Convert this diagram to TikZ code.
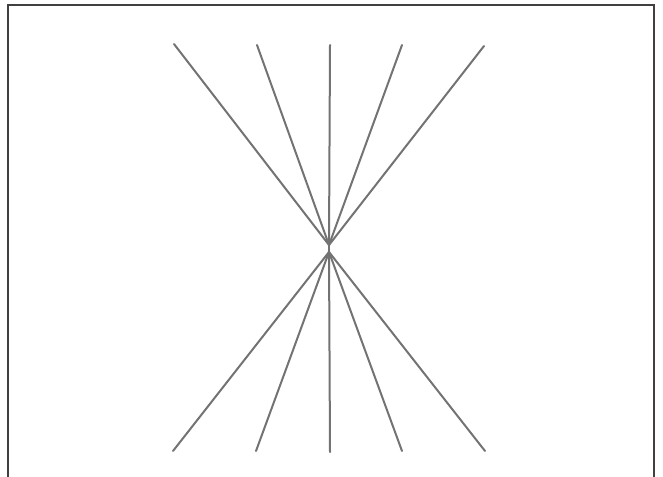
\documentclass[tikz,border=0pt]{standalone}
\begin{document}
\begin{tikzpicture}[x=1pt,y=-1pt,
  ray/.style={draw=black!55,line width=2pt,line cap=round},
  frame/.style={draw=black!75,line width=2pt}]
\useasboundingbox (0,0) rectangle (663,476);
\draw[frame] (7.5,478) -- (7.5,5) -- (654,5) -- (654,478);
\coordinate (cu) at (329,245);
\coordinate (cl) at (329,252);
\coordinate (t1) at (174,44);
\coordinate (t2) at (257,45);
\coordinate (t3) at (330,45);
\coordinate (t4) at (402,45);
\coordinate (t5) at (484,46);
\coordinate (b1) at (173,451);
\coordinate (b2) at (256,451);
\coordinate (b3) at (330,452);
\coordinate (b4) at (402,451);
\coordinate (b5) at (485,451);
\foreach \t in {t1,t2,t3,t4,t5} \draw[ray] (\t) -- (cu);
\foreach \b in {b1,b2,b3,b4,b5} \draw[ray] (cl) -- (\b);
\draw[ray] (cu) -- (cl);
\end{tikzpicture}
\end{document}
